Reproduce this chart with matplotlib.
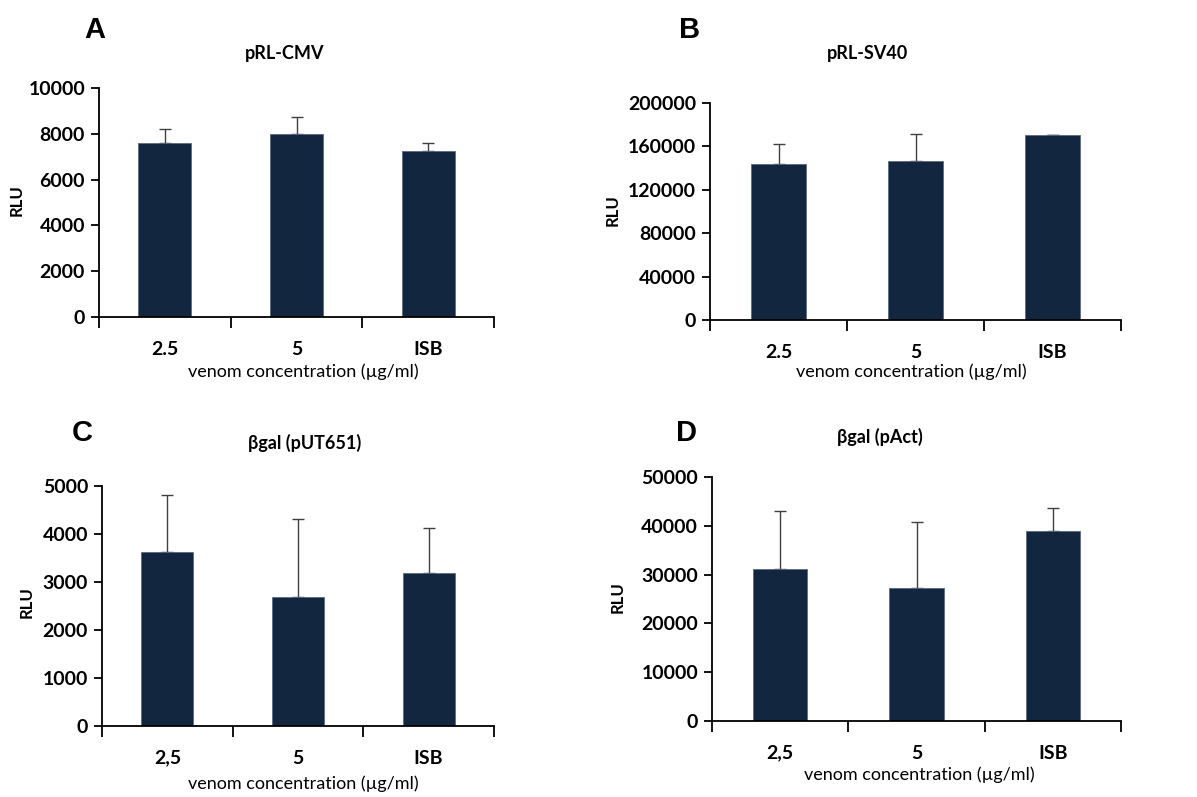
import numpy as np
import matplotlib
matplotlib.use("Agg")
import matplotlib.pyplot as plt

# values
cats_ab = ["2.5", "5", "ISB"]
cats_cd = ["2,5", "5", "ISB"]

cmv_mean = [7600, 8000, 7250]
cmv_err = [600, 720, 350]

sv40_mean = [143500, 146500, 170200]
sv40_err = [18500, 24500, 700]

put651_mean = [3630, 2690, 3190]
put651_err = [1190, 1630, 930]

pact_mean = [31100, 27300, 39000]
pact_err = [11900, 13400, 4700]

BAR = "#13263f"
FONT = ["Lato", "DejaVu Sans"]
plt.rcParams['font.family'] = FONT

W, H = 1197, 797
fig = plt.figure(figsize=(W / 100, H / 100), dpi=100)


def px(x, y):
    return x / W, 1 - y / H


def panel(rect, cats, mean, err, ymax, step, letter, letter_xy, title, title_xy, xlab_xy, rlu_xy):
    l, t, r, b = rect
    ax = fig.add_axes([l / W, 1 - b / H, (r - l) / W, (b - t) / H])
    x = np.arange(len(cats))
    ax.bar(x, mean, width=0.4, color=BAR, edgecolor="#5a6a80", linewidth=0.6, zorder=2)
    # only the upper half of the error bar shows, the lower cap hides behind the bar
    ax.errorbar(x, mean, yerr=[np.zeros(len(err)), err], fmt="none",
                ecolor="#404040", elinewidth=1.0, capsize=4.5, capthick=1.0, zorder=1)
    ax.set_xlim(-0.5, len(cats) - 0.5)
    ax.set_ylim(0, ymax)
    ax.set_yticks(np.arange(0, ymax + 1, step))
    ax.set_yticklabels([f"{int(v)}" for v in np.arange(0, ymax + 1, step)])
    ax.set_xticks(np.arange(-0.5, len(cats), 1.0))
    ax.set_xticklabels([])
    ax.set_xticks(x, minor=True)
    ax.set_xticklabels(cats, minor=True)
    ax.tick_params(axis="x", which="major", direction="out", length=8, width=1.3)
    ax.tick_params(axis="x", which="minor", length=0, pad=17, labelsize=14)
    ax.tick_params(axis="y", direction="out", length=6, width=1.3, labelsize=14, pad=4)
    for lab in ax.get_xticklabels(minor=True) + ax.get_yticklabels():
        lab.set_fontweight("bold")
    for s in ["top", "right"]:
        ax.spines[s].set_visible(False)
    for s in ["left", "bottom"]:
        ax.spines[s].set_linewidth(1.3)
    fig.text(*px(*letter_xy), letter, fontsize=21, fontweight="bold",
             family=["Liberation Sans", "DejaVu Sans"], ha="center", va="center")
    fig.text(*px(*title_xy), title, fontsize=13, fontweight="bold", ha="center", va="center")
    fig.text(*px(*xlab_xy), "venom concentration (µg/ml)", fontsize=13, ha="center", va="center")
    fig.text(*px(*rlu_xy), "RLU", fontsize=12, fontweight="bold", rotation=90, ha="center", va="center")
    return ax


panel((99, 88, 494, 317), cats_ab, cmv_mean, cmv_err, 10000, 2000,
      "A", (95, 30), "pRL-CMV", (285, 53), (303, 372), (17, 200))
panel((710, 103, 1121, 320), cats_ab, sv40_mean, sv40_err, 200000, 40000,
      "B", (690, 30), "pRL-SV40", (867, 53), (911, 372), (613, 210))
panel((102, 486, 494, 726), cats_cd, put651_mean, put651_err, 5000, 1000,
      "C", (82, 433), "βgal (pUT651)", (305, 443), (303, 784), (27, 602))
panel((712, 477, 1121, 721), cats_cd, pact_mean, pact_err, 50000, 10000,
      "D", (687, 433), "βgal (pAct)", (880, 437), (919, 775), (618, 597))

fig.savefig("out.png", dpi=100)
